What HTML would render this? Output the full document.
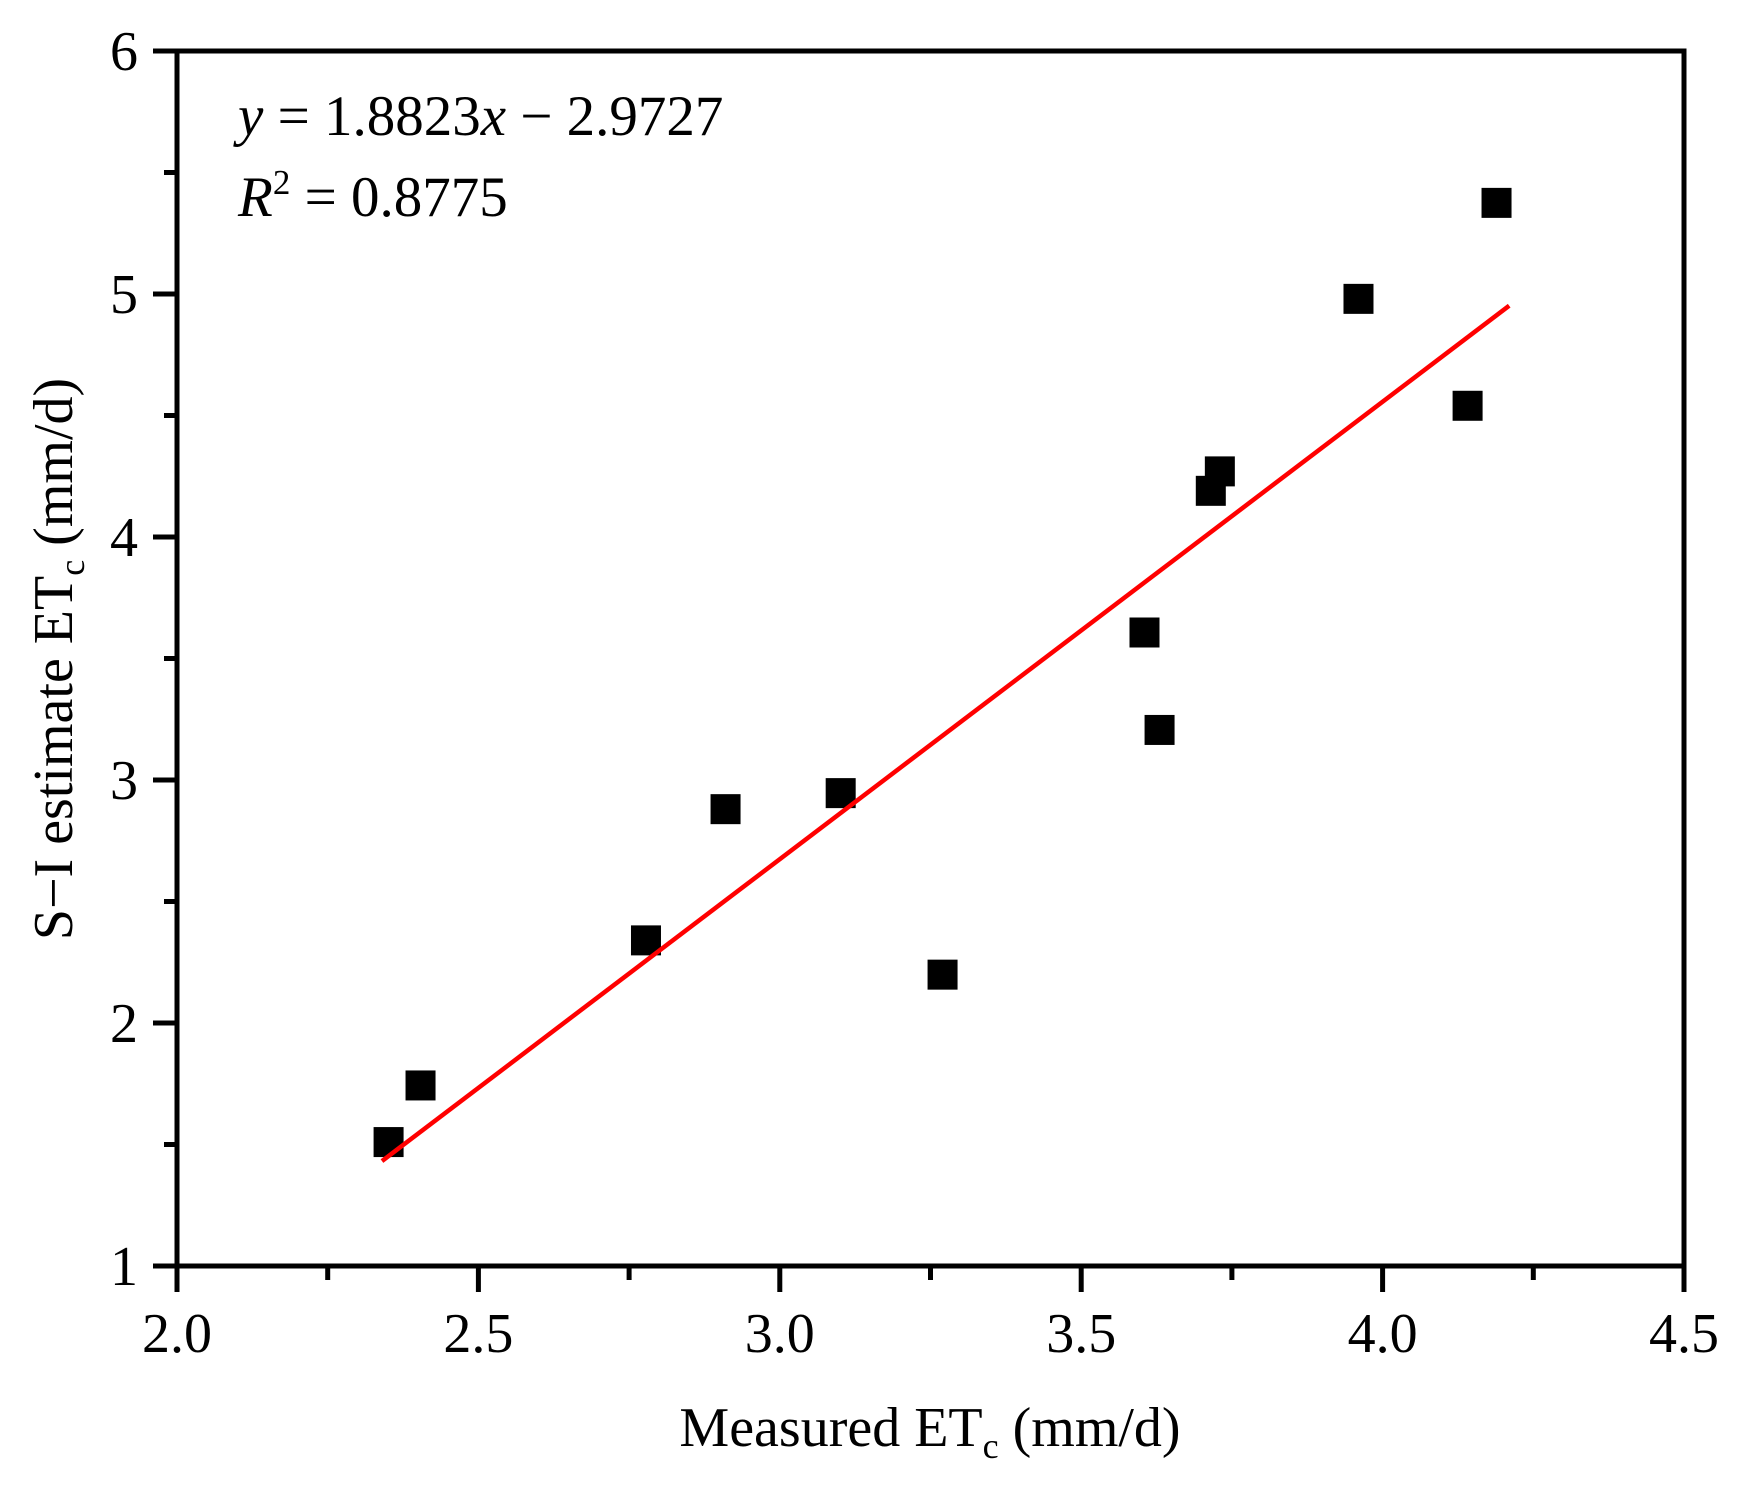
<!DOCTYPE html>
<html><head><meta charset="utf-8"><style>
body{margin:0;background:#fff}
svg text{font-family:"Liberation Serif",serif;fill:#000}
</style></head><body>
<svg id="chart" width="1737" height="1503" xmlns="http://www.w3.org/2000/svg">
<rect width="1737" height="1503" fill="#fff"/>
<g id="g"></g>
<text x="930" y="1446" font-size="56" text-anchor="middle">Measured ET<tspan font-size="36" dy="12">c</tspan><tspan dy="-12"> (mm/d)</tspan></text>
<text transform="translate(72,659) rotate(-90)" font-size="56" text-anchor="middle">S−I estimate ET<tspan font-size="36" dy="12">c</tspan><tspan dy="-12"> (mm/d)</tspan></text>
<text x="238" y="135" font-size="57"><tspan font-style="italic">y</tspan> = 1.8823<tspan font-style="italic">x</tspan> − 2.9727</text>
<text x="238" y="216" font-size="57"><tspan font-style="italic">R</tspan><tspan font-size="35" dy="-22">2</tspan><tspan dy="22"> = 0.8775</tspan></text>
</svg>
<script>
const xVals=[2.351,2.404,2.778,2.91,3.101,3.27,3.605,3.63,3.715,3.73,3.96,4.141,4.189];
const yVals=[1.51,1.743,2.34,2.88,2.946,2.199,3.607,3.206,4.19,4.27,4.98,4.54,5.375];
const slope=1.8823, intercept=-2.9727;
const fitRange=[2.34,4.21];
const xTicks=["2.0","2.5","3.0","3.5","4.0","4.5"];
const yTicks=["1","2","3","4","5","6"];
const L=177,R=1684,T=51,B=1266;
const sx=v=>L+(v-2)/2.5*(R-L), sy=v=>B-(v-1)/5*(B-T);
const g=document.getElementById('g'),NS='http://www.w3.org/2000/svg';
function mk(t,a,txt){const e=document.createElementNS(NS,t);for(const k in a)e.setAttribute(k,a[k]);if(txt!=null)e.textContent=txt;g.appendChild(e);return e;}
xVals.forEach((x,i)=>{const e=mk('rect',{x:sx(x)-15,y:sy(yVals[i])-15,width:30,height:30,fill:'#000'});

});
const ln=mk('line',{x1:sx(fitRange[0]),y1:sy(slope*fitRange[0]+intercept),x2:sx(fitRange[1]),y2:sy(slope*fitRange[1]+intercept),stroke:'#f00','stroke-width':4.5});


const fr=mk('rect',{x:L,y:T,width:R-L,height:B-T,fill:'none',stroke:'#000','stroke-width':5});


xTicks.forEach((t,i)=>{const v=parseFloat(t),x=sx(v);
mk('line',{x1:x,y1:B,x2:x,y2:B+26,stroke:'#000','stroke-width':5});
if(i<xTicks.length-1)mk('line',{x1:sx(v+0.25),y1:B,x2:sx(v+0.25),y2:B+14,stroke:'#000','stroke-width':5});
const e=mk('text',{x:x,y:1352,'font-size':56,'text-anchor':'middle'},t);

});
yTicks.forEach((t,i)=>{const v=parseFloat(t),y=sy(v);
mk('line',{x1:L-24,y1:y,x2:L,y2:y,stroke:'#000','stroke-width':5});
if(i<yTicks.length-1)mk('line',{x1:L-13,y1:sy(v+0.5),x2:L,y2:sy(v+0.5),stroke:'#000','stroke-width':5});
const e=mk('text',{x:138,y:y+19,'font-size':56,'text-anchor':'end'},t);

});
</script>
</body></html>
